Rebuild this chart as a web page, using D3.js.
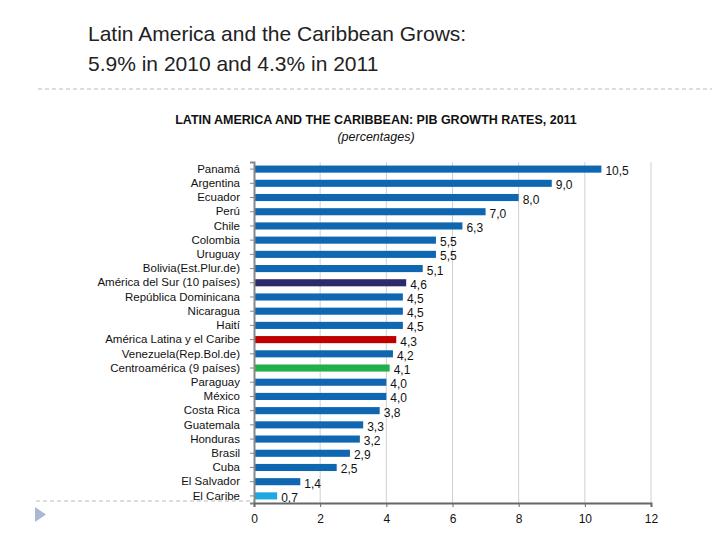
<!DOCTYPE html>
<html><head><meta charset="utf-8">
<script src="https://cdn.jsdelivr.net/npm/d3@7"></script>
<style>body{margin:0;background:#fff}</style></head>
<body><svg id="c" width="720" height="540"></svg>
<script>
const categories=["Panamá","Argentina","Ecuador","Perú","Chile","Colombia","Uruguay","Bolivia(Est.Plur.de)","América del Sur (10 países)","República Dominicana","Nicaragua","Haití","América Latina y el Caribe","Venezuela(Rep.Bol.de)","Centroamérica (9 países)","Paraguay","México","Costa Rica","Guatemala","Honduras","Brasil","Cuba","El Salvador","El Caribe"];
const values=[10.5,9.0,8.0,7.0,6.3,5.5,5.5,5.1,4.6,4.5,4.5,4.5,4.3,4.2,4.1,4.0,4.0,3.8,3.3,3.2,2.9,2.5,1.4,0.7];
const xTicks=[0,2,4,6,8,10,12];
const highlight={"América del Sur (10 países)":"#2b2a6b","América Latina y el Caribe":"#c00000","Centroamérica (9 países)":"#22b04b","El Caribe":"#1ea7e1"};
const svg=d3.select("#c");
const F="Liberation Sans, Arial, sans-serif";
svg.append("text").attr("x",88).attr("y",41).attr("font-family",F).attr("font-size",21).attr("fill","#222").text("Latin America and the Caribbean Grows:");
svg.append("text").attr("x",88).attr("y",71).attr("font-family",F).attr("font-size",21).attr("fill","#222").text("5.9% in 2010 and 4.3% in 2011");
svg.append("line").attr("x1",38).attr("x2",712).attr("y1",89).attr("y2",89).attr("stroke","#bbb").attr("stroke-dasharray","4,3");
svg.append("line").attr("x1",36).attr("x2",254).attr("y1",501).attr("y2",501).attr("stroke","#bbb").attr("stroke-dasharray","4,3");
svg.append("path").attr("d","M35,507 L46,514.5 L35,522 Z").attr("fill","#a9b9d3");
svg.append("text").attr("x",376).attr("y",124).attr("text-anchor","middle").attr("font-family",F).attr("font-size",12.5).attr("font-weight","bold").attr("fill","#111").text("LATIN AMERICA  AND THE CARIBBEAN: PIB GROWTH RATES, 2011");
svg.append("text").attr("x",376).attr("y",141).attr("text-anchor","middle").attr("font-family",F).attr("font-size",12.5).attr("font-style","italic").attr("fill","#111").text("(percentages)");
const x=d3.scaleLinear().domain([0,12]).range([254,651]);
const y=d3.scaleBand().domain(categories).range([162,503]).paddingInner(0.5).paddingOuter(0.25);
const g=svg.append("g");
g.selectAll(".grid").data(xTicks.slice(1)).join("line").attr("x1",d=>x(d)).attr("x2",d=>x(d)).attr("y1",162).attr("y2",503).attr("stroke","#d0d0d0");
g.selectAll(".bar").data(categories).join("rect").attr("x",x(0)).attr("y",d=>y(d)).attr("height",y.bandwidth()).attr("width",(d,i)=>x(values[i])-x(0)).attr("fill",d=>highlight[d]||"#0f67b1");
g.selectAll(".val").data(categories).join("text").attr("x",(d,i)=>x(values[i])+4).attr("y",(d,i)=>y(d)+y.bandwidth()/2+6).attr("font-family",F).attr("font-size",12).attr("fill","#111").text((d,i)=>values[i].toFixed(1).replace(".",","));
const ya=svg.append("g").attr("transform","translate(254,0)").call(d3.axisLeft(y).tickSize(4).tickPadding(10));
ya.select(".domain").attr("stroke","#888").attr("stroke-width",2);
ya.selectAll(".tick line").attr("stroke","#888");
ya.selectAll("text").attr("font-family",F).attr("font-size",11.5).attr("fill","#111");
const xa=svg.append("g").attr("transform","translate(0,503)").call(d3.axisBottom(x).tickValues(xTicks).tickSize(4).tickPadding(7).tickFormat(d3.format("d")));
xa.select(".domain").attr("stroke","#666").attr("stroke-width",2);
xa.selectAll(".tick line").attr("stroke","#666");
xa.selectAll("text").attr("font-family",F).attr("font-size",12).attr("fill","#111");
</script></body></html>
